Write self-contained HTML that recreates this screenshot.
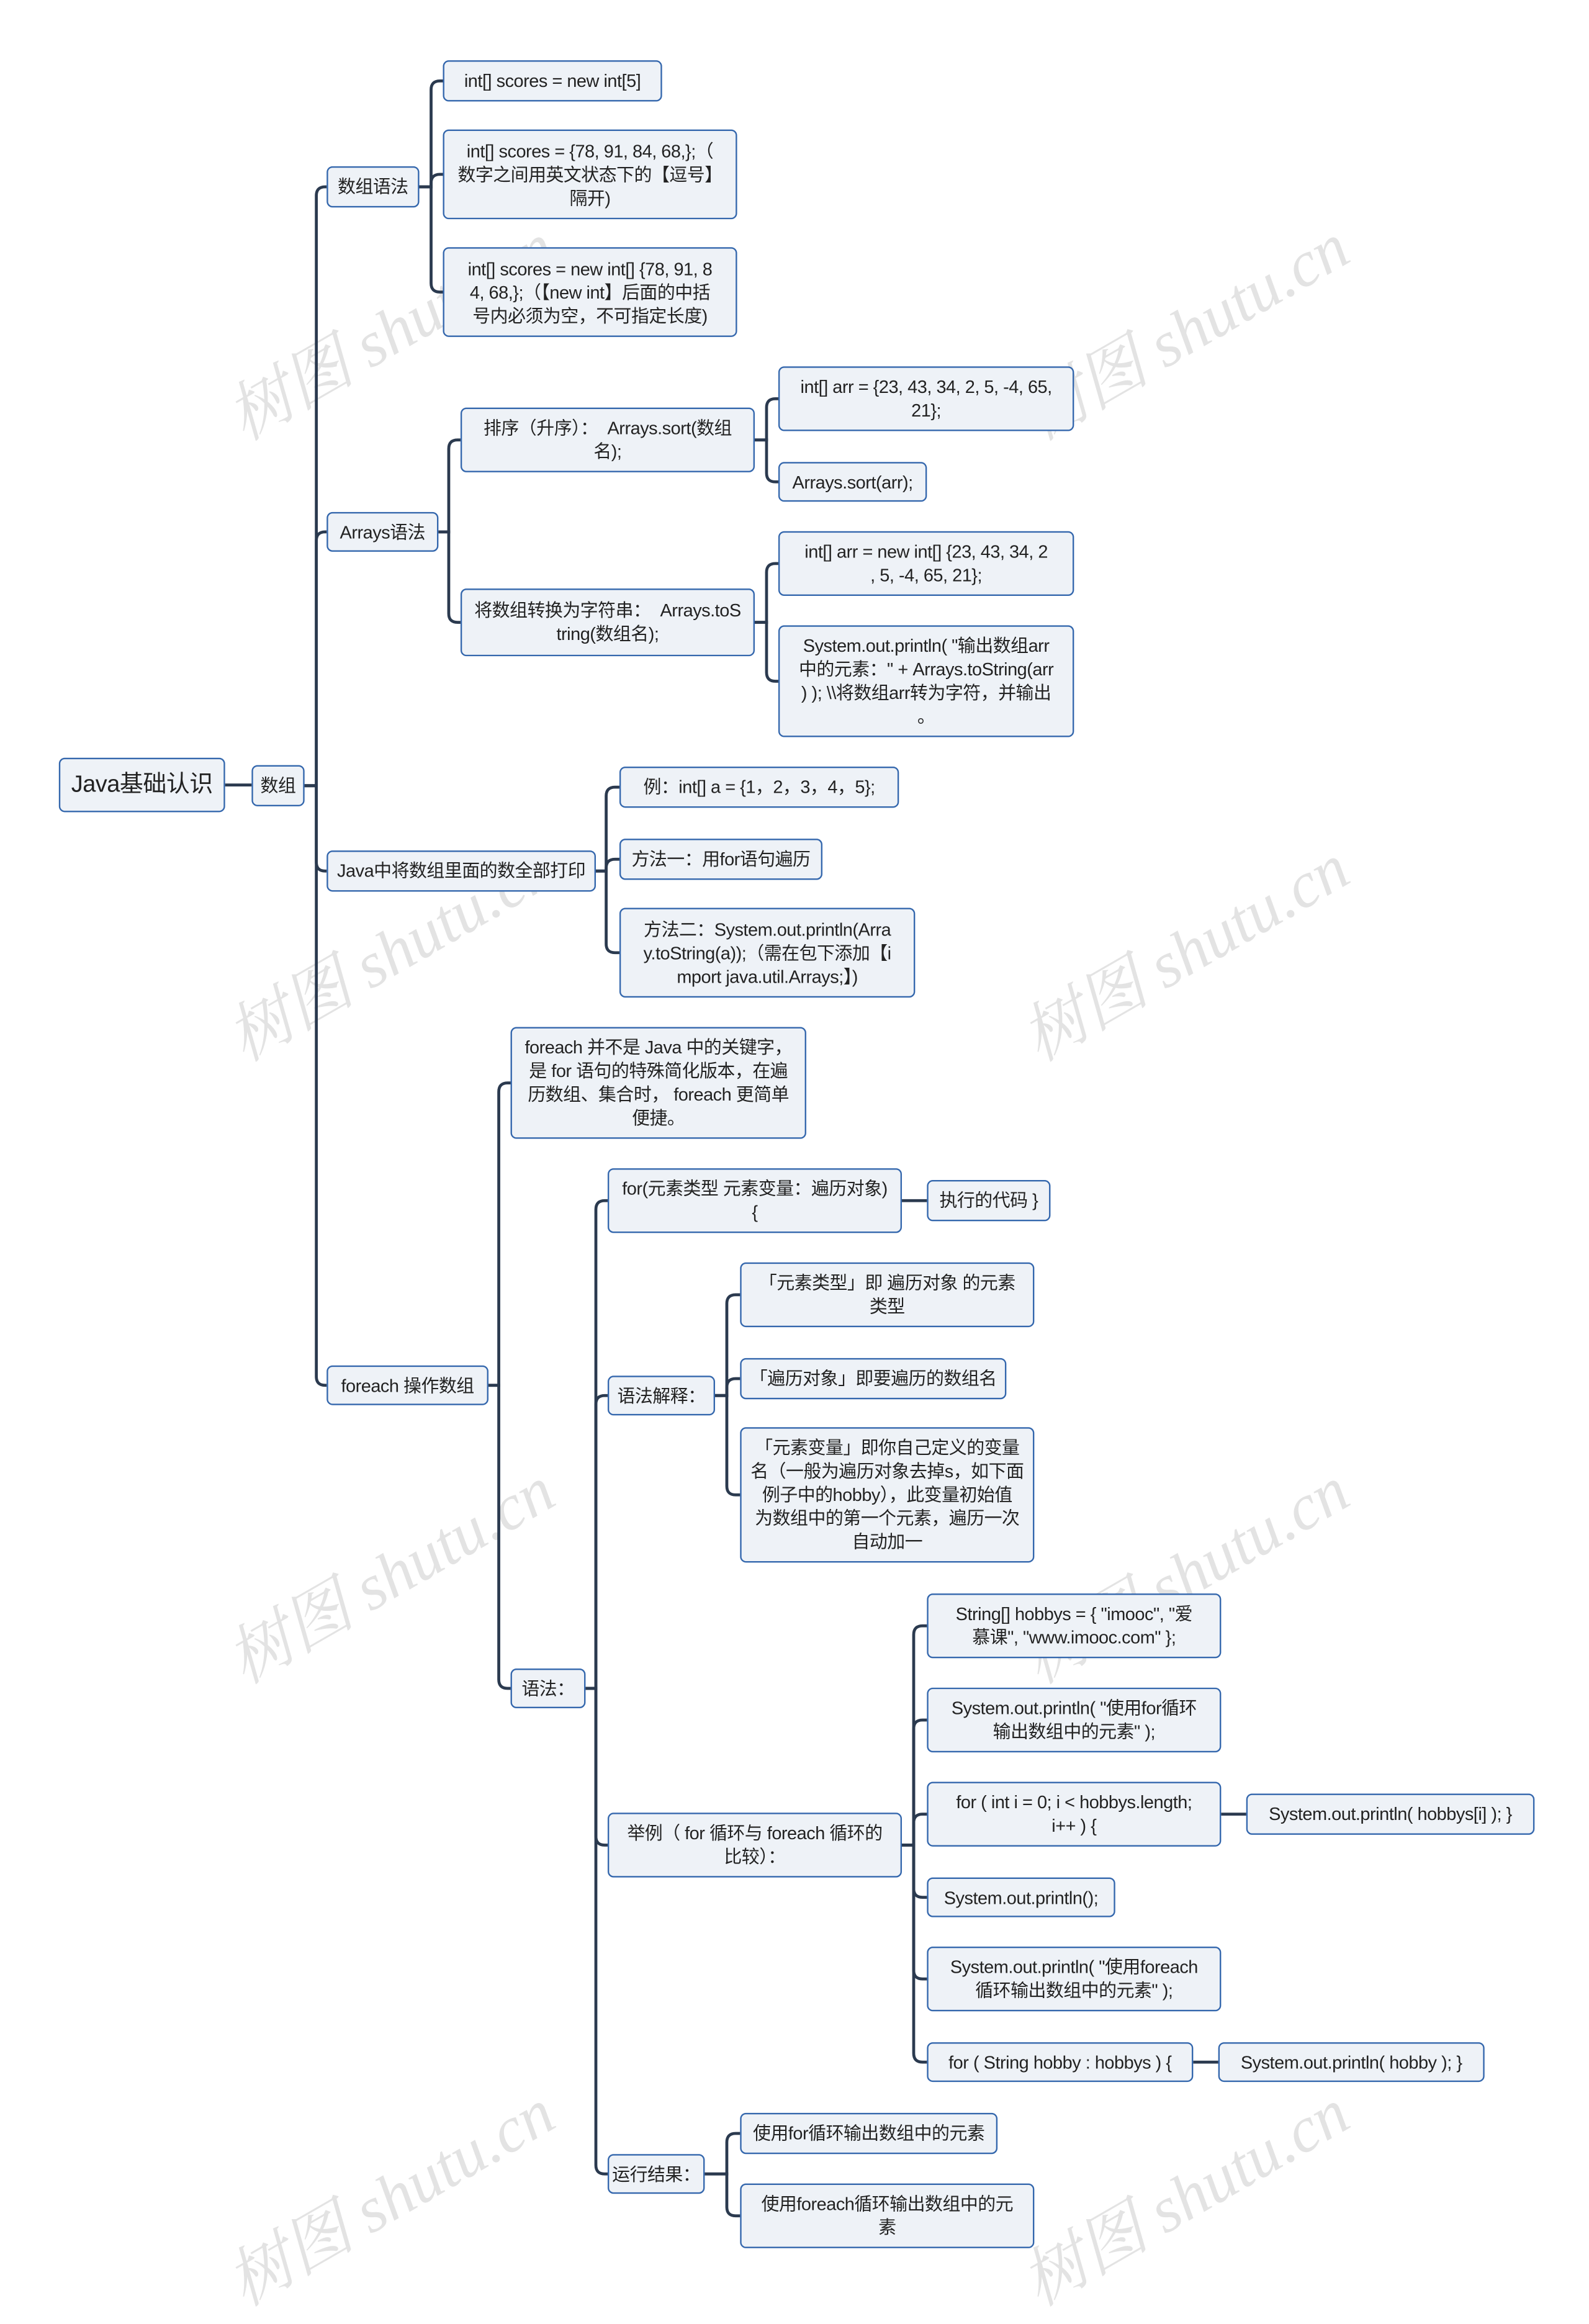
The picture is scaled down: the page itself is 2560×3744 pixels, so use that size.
<!DOCTYPE html>
<html><head><meta charset="utf-8">
<style>
html,body{margin:0;padding:0;background:#fff;}
body{width:2560px;height:3707px;overflow:hidden;position:relative;}
#s{position:absolute;left:0;top:0;width:1080px;height:1564px;transform:scale(2.37037);transform-origin:0 0;}
.n{position:absolute;box-sizing:border-box;background:#eef2f7;border:1px solid #3467ad;border-radius:4px;display:flex;align-items:center;justify-content:center;text-align:center;font-family:"Liberation Sans","Noto Sans CJK SC",sans-serif;font-size:12.2px;line-height:16px;color:#222;white-space:nowrap;letter-spacing:-0.2px;}
.w{position:absolute;font-family:"Liberation Serif","Noto Serif CJK SC",serif;font-style:italic;font-size:44px;color:rgba(0,0,0,0.11);transform:rotate(-30deg);white-space:nowrap;}
svg{position:absolute;left:0;top:0;}
</style></head><body><div id="s">
<div class="w" style="left:140px;top:190px">树图 shutu.cn</div>
<div class="w" style="left:680px;top:190px">树图 shutu.cn</div>
<div class="w" style="left:140px;top:612px">树图 shutu.cn</div>
<div class="w" style="left:680px;top:612px">树图 shutu.cn</div>
<div class="w" style="left:140px;top:1035px">树图 shutu.cn</div>
<div class="w" style="left:680px;top:1035px">树图 shutu.cn</div>
<div class="w" style="left:140px;top:1458px">树图 shutu.cn</div>
<div class="w" style="left:680px;top:1458px">树图 shutu.cn</div>
<svg id="lines" width="1080" height="1564"></svg>

<div class="n" id="root" style="left:40px;top:515px;width:113px;height:37px;font-size:16px">Java基础认识</div>
<div class="n" id="a" style="left:171px;top:520px;width:36px;height:28px">数组</div>

<div class="n" id="b1" style="left:222px;top:113px;width:63px;height:28px">数组语法</div>
<div class="n" id="b2" style="left:222px;top:348px;width:76px;height:27px">Arrays语法</div>
<div class="n" id="b3" style="left:222px;top:578px;width:183px;height:28px">Java中将数组里面的数全部打印</div>
<div class="n" id="b4" style="left:222px;top:928px;width:110px;height:27px">foreach 操作数组</div>

<div class="n" id="c1" style="left:301px;top:41px;width:149px;height:28px">int[] scores = new int[5]</div>
<div class="n" id="c2" style="left:301px;top:88px;width:200px;height:61px">int[] scores = {78, 91, 84, 68,};（<br>数字之间用英文状态下的【逗号】<br>隔开)</div>
<div class="n" id="c3" style="left:301px;top:168px;width:200px;height:61px">int[] scores = new int[] {78, 91, 8<br>4, 68,};（【new int】后面的中括<br>号内必须为空，不可指定长度)</div>

<div class="n" id="d1" style="left:313px;top:277px;width:200px;height:44px">排序（升序）：&nbsp; Arrays.sort(数组<br>名);</div>
<div class="n" id="d2" style="left:313px;top:400px;width:200px;height:46px">将数组转换为字符串：&nbsp; Arrays.toS<br>tring(数组名);</div>
<div class="n" id="e1" style="left:529px;top:249px;width:201px;height:44px">int[] arr = {23, 43, 34, 2, 5, -4, 65,<br>21};</div>
<div class="n" id="e2" style="left:529px;top:314px;width:101px;height:27px">Arrays.sort(arr);</div>
<div class="n" id="e3" style="left:529px;top:361px;width:201px;height:44px">int[] arr = new int[] {23, 43, 34, 2<br>, 5, -4, 65, 21};</div>
<div class="n" id="e4" style="left:529px;top:425px;width:201px;height:76px">System.out.println( "输出数组arr<br>中的元素：" + Arrays.toString(arr<br>) ); \\将数组arr转为字符，并输出<br>。</div>

<div class="n" id="f1" style="left:421px;top:521px;width:190px;height:28px">例：int[] a = {1，2，3，4，5};</div>
<div class="n" id="f2" style="left:421px;top:570px;width:138px;height:28px">方法一：用for语句遍历</div>
<div class="n" id="f3" style="left:421px;top:617px;width:201px;height:61px">方法二：System.out.println(Arra<br>y.toString(a));（需在包下添加【i<br>mport java.util.Arrays;】)</div>

<div class="n" id="g1" style="left:347px;top:698px;width:201px;height:76px">foreach 并不是 Java 中的关键字，<br>是 for 语句的特殊简化版本，在遍<br>历数组、集合时， foreach 更简单<br>便捷。</div>
<div class="n" id="g2" style="left:347px;top:1134px;width:51px;height:27px">语法：</div>

<div class="n" id="h1" style="left:413px;top:794px;width:200px;height:44px">for(元素类型 元素变量：遍历对象)<br>{</div>
<div class="n" id="h1a" style="left:630px;top:802px;width:84px;height:28px">执行的代码 }</div>
<div class="n" id="h2" style="left:413px;top:935px;width:73px;height:27px">语法解释：</div>
<div class="n" id="i1" style="left:503px;top:858px;width:200px;height:44px">「元素类型」即 遍历对象 的元素<br>类型</div>
<div class="n" id="i2" style="left:503px;top:923px;width:181px;height:28px">「遍历对象」即要遍历的数组名</div>
<div class="n" id="i3" style="left:503px;top:970px;width:200px;height:92px">「元素变量」即你自己定义的变量<br>名（一般为遍历对象去掉s，如下面<br>例子中的hobby），此变量初始值<br>为数组中的第一个元素，遍历一次<br>自动加一</div>
<div class="n" id="h3" style="left:413px;top:1232px;width:200px;height:44px">举例（ for 循环与 foreach 循环的<br>比较）：</div>
<div class="n" id="j1" style="left:630px;top:1083px;width:200px;height:44px">String[] hobbys = { "imooc", "爱<br>慕课", "www.imooc.com" };</div>
<div class="n" id="j2" style="left:630px;top:1147px;width:200px;height:44px">System.out.println( "使用for循环<br>输出数组中的元素" );</div>
<div class="n" id="j3" style="left:630px;top:1211px;width:200px;height:44px">for ( int i = 0; i &lt; hobbys.length;<br>i++ ) {</div>
<div class="n" id="j3a" style="left:847px;top:1219px;width:196px;height:28px">System.out.println( hobbys[i] ); }</div>
<div class="n" id="j4" style="left:630px;top:1276px;width:128px;height:27px">System.out.println();</div>
<div class="n" id="j5" style="left:630px;top:1323px;width:200px;height:44px">System.out.println( "使用foreach<br>循环输出数组中的元素" );</div>
<div class="n" id="j6" style="left:630px;top:1388px;width:181px;height:27px">for ( String hobby : hobbys ) {</div>
<div class="n" id="j6a" style="left:828px;top:1388px;width:181px;height:27px">System.out.println( hobby ); }</div>
<div class="n" id="h4" style="left:413px;top:1464px;width:66px;height:27px">运行结果：</div>
<div class="n" id="k1" style="left:503px;top:1436px;width:175px;height:28px">使用for循环输出数组中的元素</div>
<div class="n" id="k2" style="left:503px;top:1484px;width:200px;height:44px">使用foreach循环输出数组中的元<br>素</div>
</div>
<script>
var T=[["root",["a"],0],["a",["b1","b2","b3","b4"],215],["b1",["c1","c2","c3"],293],["b2",["d1","d2"],305],
["d1",["e1","e2"],521],["d2",["e3","e4"],521],["b3",["f1","f2","f3"],412],["b4",["g1","g2"],339],
["g2",["h1","h2","h3","h4"],405],["h1",["h1a"],0],["h2",["i1","i2","i3"],494],["h3",["j1","j2","j3","j4","j5","j6"],621],
["j3",["j3a"],0],["j6",["j6a"],0],["h4",["k1","k2"],494]];
function g(id){var e=document.getElementById(id);return{l:e.offsetLeft,t:e.offsetTop,r:e.offsetLeft+e.offsetWidth,y:e.offsetTop+e.offsetHeight/2};}
var s="";
T.forEach(function(t){var p=g(t[0]);t[1].forEach(function(c){var q=g(c);
if(!t[2]){s+='<path d="M'+p.r+' '+p.y+'H'+q.l+'" />';return;}
var vx=t[2],r=6,d='M'+p.r+' '+p.y+'H'+vx;
if(Math.abs(q.y-p.y)<1){d+='H'+q.l;}else{var sg=q.y>p.y?1:-1;d+='V'+(q.y-sg*r)+'Q'+vx+' '+q.y+' '+(vx+r)+' '+q.y+'H'+q.l;}
s+='<path d="'+d+'" />';});});
var L=document.getElementById('lines');L.innerHTML='<g fill="none" stroke="#2b3a4f" stroke-width="2">'+s+'</g>';
</script>
</body></html>
